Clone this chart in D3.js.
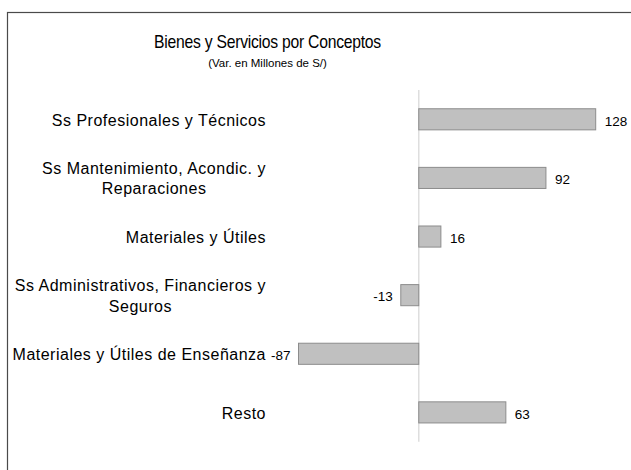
<!DOCTYPE html>
<html>
<head>
<meta charset="utf-8">
<script src="https://cdn.jsdelivr.net/npm/d3@7"></script>
<style>
  body { margin: 0; background: #fff; }
  text { font-family: "Liberation Sans", Arial, sans-serif; fill: #000; }
</style>
</head>
<body>
<div id="chart"></div>
<script>
// Categories (line breaks as in the original labels)
const categories = [
    'Ss Profesionales y Técnicos',
    'Ss Mantenimiento, Acondic. y\nReparaciones',
    'Materiales y  Útiles',
    'Ss Administrativos, Financieros y\nSeguros',
    'Materiales y Útiles de Enseñanza',
    'Resto'
]
const values = [128, 92, 16, -13, -87, 63]

const title = 'Bienes y Servicios por Conceptos'
const subtitle = '(Var. en Millones de S/)'

const width = 631
const height = 470

const svg = d3.select('#chart')
    .append('svg')
    .attr('width', width)
    .attr('height', height)

// outer frame (runs off the right and bottom of the picture)
svg.append('rect')
    .attr('x', 7.5)
    .attr('y', 12.5)
    .attr('width', 700)
    .attr('height', 600)
    .attr('fill', 'none')
    .attr('stroke', '#4a4a4a')
    .attr('stroke-width', 1.2)

// title is set in a condensed face in the original
svg.append('g')
    .attr('transform', 'translate(267.5, 47.5) scale(0.85, 1)')
    .append('text')
    .attr('text-anchor', 'middle')
    .style('font-size', '18.5px')
    .style('letter-spacing', '-0.3px')
    .text(title)

svg.append('text')
    .attr('x', 267.5)
    .attr('y', 66.5)
    .attr('text-anchor', 'middle')
    .style('font-size', '11.5px')
    .text(subtitle)

// scales
const x = d3.scaleLinear()
    .domain([-87, 128])
    .range([298.5, 595.7])

const y = d3.scaleBand()
    .domain(categories)
    .range([90, 441.7])
    .paddingInner(0.64)
    .paddingOuter(0.32)

// zero line
svg.append('line')
    .attr('x1', x(0))
    .attr('x2', x(0))
    .attr('y1', 90)
    .attr('y2', 441.7)
    .attr('stroke', '#dedede')
    .attr('stroke-width', 1.5)

const data = categories.map((c, i) => ({cat: c, val: values[i]}))

svg.selectAll('.bar')
    .data(data)
    .join('rect')
    .attr('class', 'bar')
    .attr('x', d => x(Math.min(0, d.val)))
    .attr('y', d => y(d.cat))
    .attr('width', d => Math.abs(x(d.val) - x(0)))
    .attr('height', y.bandwidth())
    .attr('fill', '#c0c0c0')
    .attr('stroke', '#8c8c8c')
    .attr('stroke-width', 1)

// value labels
svg.selectAll('.val')
    .data(data)
    .join('text')
    .attr('class', 'val')
    .attr('x', d => d.val >= 0 ? x(d.val) + 9 : x(d.val) - 8)
    .attr('y', d => y(d.cat) + y.bandwidth() / 2 + 6.3)
    .attr('text-anchor', d => d.val >= 0 ? 'start' : 'end')
    .style('font-size', '13.5px')
    .text(d => d.val)

// category labels: lines centred on each other, block right-aligned
const labelRight = 266
const labelLeft = 9
const lineGap = 20.5
svg.selectAll('.cat')
    .data(data)
    .join('text')
    .attr('class', 'cat')
    .attr('text-anchor', 'middle')
    .style('font-size', '16px')
    .style('letter-spacing', '0.5px')
    .each(function(d) {
        const lines = d.cat.split('\n')
        const t = d3.select(this)
        const cy = y(d.cat) + y.bandwidth() / 2 + 6.2 - (lines.length - 1) * lineGap / 2
        lines.forEach((ln, i) => {
            t.append('tspan').attr('y', cy + i * lineGap).text(ln)
        })
        let w = 0
        t.selectAll('tspan').each(function() { w = Math.max(w, this.getComputedTextLength()) })
        const cx = Math.max(labelRight - w / 2, labelLeft + w / 2)
        t.selectAll('tspan').attr('x', cx)
    })
</script>
</body>
</html>
